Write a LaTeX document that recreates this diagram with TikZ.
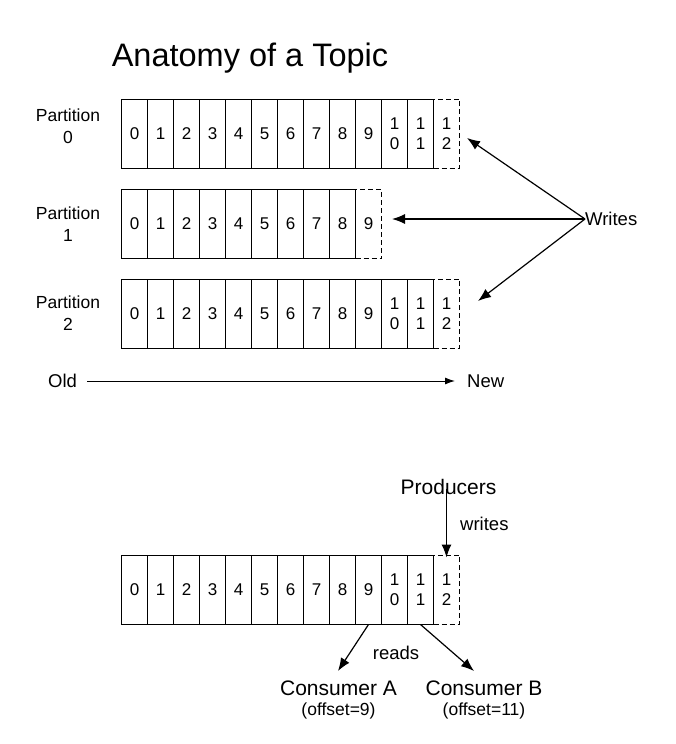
\documentclass[tikz,border=0pt]{standalone}
\usepackage{fontspec}
\setmainfont{Liberation Sans}
\usetikzlibrary{arrows.meta}

\tikzset{
  cell/.style={draw, line width=1pt, minimum width=26pt, minimum height=69pt, inner sep=0pt,
    align=center, font=\fontsize{17}{20}\selectfont},
  nextcell/.style={cell, dashed, dash pattern=on 5pt off 3pt},
  partlabel/.style={align=center, inner sep=0pt, font=\fontsize{17.5}{22}\selectfont},
  label/.style={inner sep=0pt, font=\fontsize{18.5}{22}\selectfont},
  arr/.style={line width=1.2pt, -{Latex[length=13pt, width=10pt]}}
}

\begin{document}
\begin{tikzpicture}[x=1pt, y=-1pt]
  \useasboundingbox (0, 0) rectangle (676, 744);
  \node[font=\fontsize{32.5}{38}\selectfont] (title) at (250, 58) {Anatomy of a Topic};

  % Partition 0
  \node[partlabel] (lab0) at (68, 126) {Partition\\0};
  \foreach \i in {0,...,9}
    \node[cell] (a\i) at ({134.5+26*\i}, 133.5) {\i};
  \node[nextcell] (a12) at (446.5, 133.5) {1\\2};
  \node[cell] (a10) at (394.5, 133.5) {1\\0};
  \node[cell] (a11) at (420.5, 133.5) {1\\1};

  % Partition 1
  \node[partlabel] (lab1) at (68, 224) {Partition\\1};
  \node[nextcell] (b9) at (368.5, 224) {9};
  \foreach \i in {0,...,8}
    \node[cell] (b\i) at ({134.5+26*\i}, 224) {\i};

  % Partition 2
  \node[partlabel] (lab2) at (68, 313) {Partition\\2};
  \foreach \i in {0,...,9}
    \node[cell] (c\i) at ({134.5+26*\i}, 313.5) {\i};
  \node[nextcell] (c12) at (446.5, 313.5) {1\\2};
  \node[cell] (c10) at (394.5, 313.5) {1\\0};
  \node[cell] (c11) at (420.5, 313.5) {1\\1};

  % Writes
  \node[label, anchor=west] (writes) at (585, 219) {Writes};
  \coordinate (to0) at (467, 138);
  \coordinate (to1) at (392, 219);
  \coordinate (to2) at (478, 301);
  \draw[arr] (writes.west) -- (to0);
  \draw[arr] (writes.west) -- (to1);
  \draw[arr] (writes.west) -- (to2);

  % Old -> New
  \node[label, anchor=west] (old) at (48, 381) {Old};
  \node[label, anchor=west] (new) at (467, 381) {New};
  \draw[line width=1pt, -{Latex[length=10pt, width=7pt]}] ([xshift=10pt]old.east) -- ([xshift=-12pt]new.west);

  % Producers / consumers
  \node[label, font=\fontsize{21}{25}\selectfont] (prod) at (448.5, 487) {Producers};
  \node[label, anchor=west] (wr) at (460, 524) {writes};
  \node[nextcell] (d12) at (446.5, 589.5) {1\\2};
  \foreach \i in {0,...,9}
    \node[cell] (d\i) at ({134.5+26*\i}, 589.5) {\i};
  \node[cell] (d10) at (394.5, 589.5) {1\\0};
  \node[cell] (d11) at (420.5, 589.5) {1\\1};
  \draw[arr] ([yshift=6pt]prod.south -| d12) -- ([yshift=-3pt]d12.north);

  \node[label] (reads) at (396, 653) {reads};
  \node[label, font=\fontsize{21}{25}\selectfont] (consa) at (338.5, 688) {Consumer A};
  \node[label, font=\fontsize{17.5}{20}\selectfont] (offa) at (338.5, 711) {(offset=9)};
  \node[label, font=\fontsize{21}{25}\selectfont] (consb) at (484, 688) {Consumer B};
  \node[label, font=\fontsize{17.5}{20}\selectfont] (offb) at (484, 711) {(offset=11)};
  \coordinate (toa) at (338, 671);
  \coordinate (tob) at (474, 671);
  \draw[arr] (d9.south) -- (toa);
  \draw[arr] (d11.south) -- (tob);
\end{tikzpicture}
\end{document}
